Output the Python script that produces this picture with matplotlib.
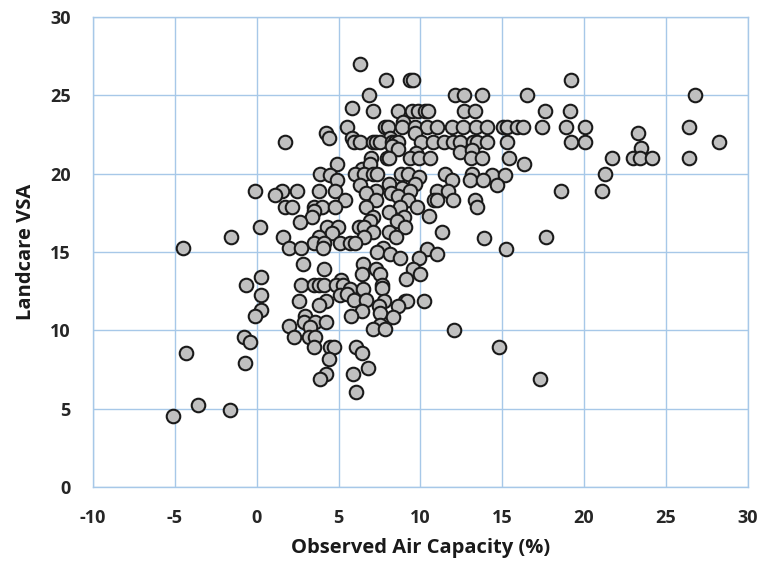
import numpy as np
import matplotlib
matplotlib.use('Agg')
import matplotlib.pyplot as plt

# Observed air capacity (%) vs Landcare VSA score
air_capacity = [
    6.28,
    7.91, 9.37, 9.54, 19.23,
    6.85, 12.12, 12.68, 13.78, 16.5, 26.79,
    5.8, 7.13, 8.6, 9.47, 9.88, 10.29, 10.49, 12.68, 13.35, 17.6, 19.13,
    8.96,
    5.51, 7.85, 8.05, 8.87, 9.68, 10.43, 11.0, 11.91, 12.59, 13.40, 14.09,
    15.06, 15.27, 15.88, 16.28, 17.4, 18.87, 20.08, 26.4,
    4.23, 4.39, 9.68, 23.3, 5.82, 8.15,
    1.75, 5.92, 6.32, 7.13, 7.3, 7.54, 8.26, 8.46, 8.66, 10.04, 10.79, 11.45,
    12.01, 12.42, 13.23, 13.48, 14.05, 15.3, 19.23, 20.04, 28.23,
    8.26, 12.42, 13.13, 8.66, 9.74, 23.5,
    6.98, 7.95, 8.11, 9.37, 9.94, 10.59, 13.07, 13.78, 15.41, 21.73, 22.99,
    23.4, 24.15, 26.4,
    16.32, 4.92, 6.43, 6.89,
    3.84, 4.49, 6.02, 6.53, 7.13, 7.34, 8.82, 9.27, 9.9, 11.5, 13.13, 14.35,
    15.15, 21.26,
    4.9, 11.91, 13.03, 13.84, 14.66, 6.32, 8.11, 9.68, 8.87,
    -0.08, 1.55, 2.46, 3.78, 4.8, 7.3, 9.37, 11.04, 11.7, 18.56, 21.1,
    1.14, 6.69, 8.2, 8.66,
    5.37, 7.3, 9.27, 10.8, 11.0, 12.0, 13.33,
    1.75, 2.16, 3.48, 3.99, 4.8, 6.69, 8.76, 9.82, 13.43,
    3.48, 8.11, 3.38, 7.13, 9.02, 10.55, 6.93, 8.56, 2.66,
    0.18, 4.29, 4.96, 6.22, 6.53, 9.07,
    4.6, 7.13, 8.11, 11.3,
    -1.6, 1.61, 3.78, 6.53, 8.52, 13.9, 17.66,
    3.48, 4.09, 5.06, 5.67, 6.02,
    -4.49, 1.95, 2.73, 4.02, 7.7, 10.43, 15.23,
    7.34, 8.15, 11.0, 8.76, 9.92, 2.83, 6.49,
    4.09, 7.3, 9.57, 6.43, 7.54, 9.98,
    0.29, 9.13, 5.15,
    -0.63, 2.73, 3.48, 3.78, 4.13, 4.84, 5.3, 7.65,
    5.71, 6.49, 7.65,
    0.29, 5.06, 5.5,
    2.56, 4.25, 5.96, 6.69, 7.75, 9.07, 9.2, 10.24,
    3.78, 8.6, 7.5,
    0.23, 6.43, 7.54,
    -0.08, 2.97, 5.77, 8.32,
    2.87, 3.54, 4.25,
    7.54, 1.95, 3.27, 7.13, 7.85, 12.05,
    -0.79, 2.3, 3.17, 3.58,
    -0.43,
    3.52, 4.49, 4.7, 6.04, 14.8,
    -4.33, 6.45, 4.39, -0.73, 6.81, 4.25, 5.91, 3.88, 17.3, 6.04,
    -3.57, -1.65, -5.1,
]

landcare_vsa = [
    27.0,
    26.0, 26.0, 26.0, 26.0,
    25.0, 25.0, 25.0, 25.0, 25.0, 25.0,
    24.2, 24.0, 24.0, 24.0, 24.0, 24.0, 24.0, 24.0, 24.0, 24.0, 24.0,
    23.3,
    23.0, 23.0, 23.0, 23.0, 23.0, 23.0, 23.0, 23.0, 23.0, 23.0, 23.0,
    23.0, 23.0, 23.0, 23.0, 23.0, 23.0, 23.0, 23.0,
    22.6, 22.3, 22.6, 22.6, 22.3, 22.3,
    22.0, 22.0, 22.0, 22.0, 22.0, 22.0, 22.0, 22.0, 22.0, 22.0, 22.0, 22.0,
    22.0, 22.0, 22.0, 22.0, 22.0, 22.0, 22.0, 22.0, 22.0,
    21.8, 21.4, 21.5, 21.6, 21.3, 21.66,
    21.0, 21.0, 21.0, 21.0, 21.0, 21.0, 21.0, 21.0, 21.0, 21.0, 21.0,
    21.0, 21.0, 21.0,
    20.6, 20.6, 20.3, 20.6,
    20.0, 19.9, 20.0, 20.0, 20.0, 20.0, 20.0, 20.0, 19.8, 20.0, 20.0, 19.9,
    19.9, 20.0,
    19.6, 19.6, 19.6, 19.6, 19.28, 19.28, 19.34, 19.34, 19.07,
    18.9, 18.9, 18.9, 18.9, 18.9, 18.9, 18.9, 18.9, 18.9, 18.9, 18.9,
    18.64, 18.75, 18.75, 18.6,
    18.3, 18.3, 18.3, 18.3, 18.3, 18.3, 18.3,
    17.9, 17.9, 17.9, 17.9, 17.9, 17.9, 17.9, 17.9, 17.9,
    17.6, 17.58, 17.26, 17.26, 17.26, 17.3, 17.0, 17.0, 16.94,
    16.58, 16.58, 16.58, 16.58, 16.58, 16.58,
    16.2, 16.3, 16.3, 16.3,
    15.94, 15.94, 15.94, 15.94, 15.94, 15.9, 15.94,
    15.6, 15.6, 15.6, 15.6, 15.6,
    15.24, 15.24, 15.24, 15.24, 15.24, 15.2, 15.2,
    15.0, 14.9, 14.9, 14.6, 14.6, 14.24, 14.24,
    13.9, 13.9, 13.9, 13.6, 13.6, 13.6,
    13.43, 13.3, 13.2,
    12.9, 12.9, 12.9, 12.9, 12.9, 12.9, 12.9, 12.9,
    12.66, 12.66, 12.7,
    12.26, 12.26, 12.3,
    11.9, 11.9, 11.95, 11.95, 11.9, 11.9, 11.9, 11.9,
    11.63, 11.56, 11.56,
    11.3, 11.26, 11.1,
    10.93, 10.93, 10.9, 10.88,
    10.56, 10.56, 10.56,
    10.35, 10.29, 10.24, 10.1, 10.08, 10.0,
    9.6, 9.6, 9.6, 9.6,
    9.25,
    8.93, 8.93, 8.93, 8.93, 8.93,
    8.55, 8.55, 8.2, 7.9, 7.59, 7.23, 7.23, 6.9, 6.9, 6.06,
    5.25, 4.89, 4.55,
]

x_ticks = np.arange(-10, 31, 5)
y_ticks = np.arange(0, 31, 5)

plt.rcParams['font.family'] = ['Open Sans', 'DejaVu Sans']
plt.rcParams['axes.unicode_minus'] = False

fig = plt.figure(figsize=(7.63, 5.62), dpi=100)
ax = fig.add_axes([0.122, 0.1335, 0.858, 0.836])

grid_color = '#A7C8E8'
ax.scatter(air_capacity, landcare_vsa, s=95, facecolor='#C0C0C0',
           edgecolor='#1a1a1a', linewidth=1.5, zorder=3)

ax.set_xlim(-10, 30)
ax.set_ylim(0, 30)
ax.set_xticks(x_ticks)
ax.set_yticks(y_ticks)
ax.grid(True, color=grid_color, linewidth=1.0, zorder=0)
for spine in ax.spines.values():
    spine.set_color(grid_color)
    spine.set_linewidth(1.0)
ax.tick_params(length=0, labelsize=13, labelcolor='#262626')
ax.tick_params(axis='x', pad=16)
ax.tick_params(axis='y', pad=16)
for tick in ax.get_xticklabels() + ax.get_yticklabels():
    tick.set_fontweight('bold')

ax.set_xlabel('Observed Air Capacity (%)', fontsize=14.5, fontweight='bold',
              color='#1a1a1a', labelpad=8)
ax.set_ylabel('Landcare VSA', fontsize=14.5, fontweight='bold',
              color='#1a1a1a', labelpad=10)

fig.savefig('out.png', dpi=100)
